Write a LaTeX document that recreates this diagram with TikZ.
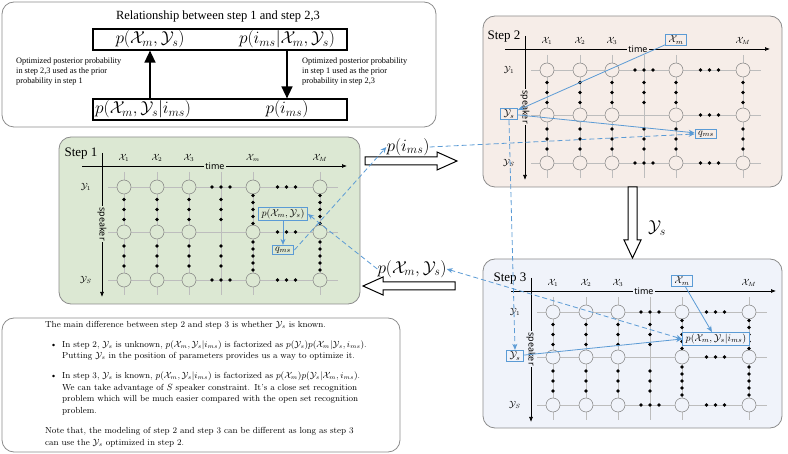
\documentclass[tikz,border=0pt]{standalone}
\usepackage{amsmath}
\usepackage{amssymb}
\usepackage{fontspec}
\newfontfamily\timesfont{Liberation Serif}
\newfontfamily\labelfont{Noto Sans}
\usepackage{tikz}
\usetikzlibrary{arrows,arrows.meta,positioning,backgrounds}

\definecolor{stepgreen}{HTML}{DCE8D3}
\definecolor{steppink}{HTML}{F6EDE8}
\definecolor{stepblue}{HTML}{F0F3FA}
\definecolor{linkblue}{HTML}{5B9BD5}
\definecolor{framegray}{HTML}{8C8C8C}
\definecolor{gridgray}{HTML}{BDBDBD}

\tikzstyle{frame}=[draw=framegray, line width=0.8pt, rounded corners=12pt]
\tikzstyle{probrow}=[draw, line width=1.2pt, minimum width=254pt, minimum height=21pt, inner sep=0pt]
\tikzstyle{probtext}=[font=\fontsize{18.5}{21}\selectfont]
\tikzstyle{probarrow}=[line width=1.5pt, -{Triangle[width=11pt,length=12pt]}]
\tikzstyle{gridline}=[draw=gridgray, line width=0.6pt]
\tikzstyle{cell}=[draw=gray, line width=0.5pt]
\tikzstyle{axis}=[line width=0.7pt, -{Latex[length=5pt,width=4pt]}]
\tikzstyle{bluebox}=[draw=linkblue, line width=1pt, inner xsep=3pt, inner ysep=1.5pt]
\tikzstyle{bluearrow}=[draw=linkblue, line width=0.8pt, -{Stealth[length=6pt,width=5pt]}]
\tikzstyle{bluedash}=[bluearrow, dash pattern=on 5pt off 3pt]
\tikzstyle{hollowarrow}=[draw, line width=1pt, fill=white]
\tikzstyle{steplabel}=[font=\timesfont\fontsize{13}{15}\selectfont]
\tikzstyle{sidenote}=[anchor=north west, align=left, font=\timesfont\fontsize{8.3}{10}\selectfont]

% one lattice of a step: #1,#2 = position of (X_1,Y_1), #3 = fill, #4 = dots in the last two columns, #5 = step
\newcommand{\stepgrid}[5]{%
  \begin{scope}[shift={(#1,#2)}]
    \foreach \cx in {0,33,65,97,129,196}
      \draw[gridline] (\cx,-15) -- (\cx,108);
    \foreach \ry in {0,45,93}
      \draw[gridline] (-16,\ry) -- (214,\ry);
    \foreach \cx in {0,33,65,129,196}
      \foreach \ry in {0,45,93}
        \filldraw[cell, fill=#3] (\cx,\ry) circle (7pt);
    % dots ---------------------------------------------------
    \foreach \cx in {0,33,65,97}
      \foreach \dy in {-10,0,10} {
        \fill (\cx,22.5+\dy) circle (1.9pt);
        \fill (\cx,69+\dy) circle (1.9pt);
      }
    \foreach \cx in {129,196}
      \foreach \dy in {#4} {
        \fill (\cx,22.5+\dy) circle (1.9pt);
        \fill (\cx,69+\dy) circle (1.9pt);
      }
    \foreach \dx in {-9,0,9} {
      \fill (97+\dx,0) circle (1.9pt);
      \fill (97+\dx,93) circle (1.9pt);
      \foreach \ry in {0,45,93}
        \fill (162.5+\dx,\ry) circle (1.9pt);
    }
    % axes ---------------------------------------------------
    \draw[axis] (-42,-21) -- (223,-21);
    \node[fill=#3, inner sep=1pt, font=\labelfont\small] at (91,-21) {time};
    \draw[axis] (-22,-34) -- (-22,110);
    \node[fill=#3, inner sep=1pt, rotate=-90, font=\labelfont\small] at (-22,37) {speaker};
    % labels -------------------------------------------------
    \node[steplabel] at (-43,-33) {Step #5};
    \node[font=\small] at (0,-29) {$\mathcal{X}_1$};
    \node[font=\small] at (33,-29) {$\mathcal{X}_2$};
    \node[font=\small] at (65,-29) {$\mathcal{X}_3$};
    \node[font=\small] at (196,-29) {$\mathcal{X}_M$};
    \node[font=\small] at (-38,0) {$\mathcal{Y}_1$};
    \node[font=\small] at (-38,93) {$\mathcal{Y}_S$};
  \end{scope}}

\begin{document}
\begin{tikzpicture}
		[x=1pt, y=-1pt, inner sep=0pt]
		
		\useasboundingbox (0,0) rectangle (788,454);
		
		% relationship box ---------------------------------------
		\draw[frame] (2,2) rectangle (436,127);
		\node[font=\timesfont\fontsize{12.5}{15}\selectfont] (title) at (218,16)
			{Relationship between step 1 and step 2,3};
		
		\node[probrow] (rowup) at (220,39.5) {};
		\node[probrow] (rowlow) at (220,109.5) {};
		
		\node[probtext] (pxyup) at (150,39.5) {$p(\mathcal{X}_m,\mathcal{Y}_s)$};
		\node[probtext] (pimsxy) at (287,39.5) {$p(i_{ms}|\mathcal{X}_m,\mathcal{Y}_s)$};
		\node[probtext, anchor=west] (pxyims) at (95,109.5) {$p(\mathcal{X}_m,\mathcal{Y}_s|i_{ms})$};
		\node[probtext] (pimslow) at (287,109.5) {$p(i_{ms})$};
		
		\draw[probarrow] (rowlow.north -| pxyup) -- (rowup.south -| pxyup);
		\draw[probarrow] (rowup.south -| pimslow) -- (rowlow.north -| pimslow);
		
		\node[sidenote] (leftnote) at (16,58)
			{Optimized posterior probability\\in step 2,3 used as the prior\\probability in step 1};
		\node[sidenote] (rightnote) at (302,58)
			{Optimized posterior probability\\in step 1 used as the prior\\probability in step 2,3};
		
		% step 1 -------------------------------------------------
		\node[frame, fill=stepgreen, minimum width=301pt, minimum height=167pt] (step1) at (209.5,220.5) {};
		\stepgrid{124}{187}{stepgreen}{-14,-7,0,7,14}{1}
		\node[font=\small] (xm1) at (253,158) {$\mathcal{X}_m$};
		\node[bluebox, fill=stepgreen] (pxy1) at (283,214) {$p(\mathcal{X}_m,\mathcal{Y}_s)$};
		\node[bluebox, fill=stepgreen] (q1) at (283,250) {$q_{ms}$};
		\draw[bluearrow] (pxy1) -- (q1);
		
		% step 2 -------------------------------------------------
		\node[frame, fill=steppink, minimum width=299pt, minimum height=171pt] (step2) at (632.5,101.5) {};
		\stepgrid{547}{70}{steppink}{-10,0,10}{2}
		\node[bluebox, fill=steppink] (xm2) at (676,40) {$\mathcal{X}_m$};
		\node[bluebox, fill=steppink] (ys2) at (509,114) {$\mathcal{Y}_s$};
		\node[bluebox, fill=steppink] (q2) at (706,134) {$q_{ms}$};
		\draw[bluearrow] (xm2) -- (ys2);
		\draw[bluearrow] (ys2) -- (q2);
		
		% step 3 -------------------------------------------------
		\node[frame, fill=stepblue, minimum width=299pt, minimum height=169pt] (step3) at (632.5,343.5) {};
		\stepgrid{553}{312}{stepblue}{-14,-7,0,7,14}{3}
		\node[bluebox, fill=stepblue] (xm3) at (682,281) {$\mathcal{X}_m$};
		\node[bluebox, fill=stepblue] (ys3) at (515,356) {$\mathcal{Y}_s$};
		\node[bluebox, fill=stepblue, minimum width=67pt] (p3) at (716,339) {$p(\mathcal{X}_m,\mathcal{Y}_s|i_{ms})$};
		\draw[bluearrow] (xm3) -- (p3);
		\draw[bluearrow] (ys3) -- (p3.west);
		
		% hand over ----------------------------------------------
		\draw[hollowarrow] (365,157) -- (437,157) -- (437,152) -- (457,161)
			-- (437,170) -- (437,165) -- (365,165) -- cycle;
		\draw[hollowarrow] (455,282) -- (383,282) -- (383,277) -- (363,286)
			-- (383,295) -- (383,290) -- (455,290) -- cycle;
		\draw[hollowarrow] (628,187) -- (628,240) -- (624,240) -- (632.5,258)
			-- (641,240) -- (637,240) -- (637,187) -- cycle;
		
		\node[font=\LARGE] (pims) at (408,147) {$p(i_{ms})$};
		\node[font=\LARGE] (pxy) at (412,269) {$p(\mathcal{X}_m,\mathcal{Y}_s)$};
		\node[font=\LARGE] (ys) at (657,228) {$\mathcal{Y}_s$};
		
		\draw[bluedash] (q1.east) -- (pims.west);
		\draw[bluedash] (pims.east) -- (q2.west);
		\draw[bluedash] (pxy.west) -- (pxy1.east);
		\draw[bluedash, {Stealth[length=6pt,width=5pt]}-{Stealth[length=6pt,width=5pt]}] (pxy.east) -- (p3.west);
		\draw[bluedash] (ys2.south) -- (ys3.north);
		
		% difference note ----------------------------------------
		\draw[frame] (2,318) rectangle (400,452);
		\node[anchor=north west, text width=340pt, font=\fontsize{8.8}{11.7}\selectfont] (note) at (45,321) {%
			\setlength{\parindent}{0pt}\setlength{\leftmargini}{17pt}%
			\setlength{\topsep}{10.5pt}\setlength{\partopsep}{0pt}%
			\setlength{\itemsep}{10pt}\setlength{\parsep}{0pt}%
			The main difference between step 2 and step 3 is whether $\mathcal{Y}_s$ is known.
			\begin{itemize}
				\item In step 2, $\mathcal{Y}_s$ is unknown, $p(\mathcal{X}_m,\mathcal{Y}_s|i_{ms})$ is factorized as $p(\mathcal{Y}_s)p(\mathcal{X}_m|\mathcal{Y}_s,i_{ms})$.\linebreak
				Putting $\mathcal{Y}_s$ in the position of parameters provides us a way to optimize it.
				\item In step 3, $\mathcal{Y}_s$ is known, $p(\mathcal{X}_m,\mathcal{Y}_s|i_{ms})$ is factorized as $p(\mathcal{X}_m)p(\mathcal{Y}_s|\mathcal{X}_m,i_{ms})$.\linebreak
				We can take advantage of $S$ speaker constraint. It's a close set recognition\linebreak
				problem which will be much easier compared with the open set recognition problem.
			\end{itemize}
			Note that, the modeling of step 2 and step 3 can be different as long as step 3\linebreak
			can use the $\mathcal{Y}_s$ optimized in step 2.};
\end{tikzpicture}
\end{document}
